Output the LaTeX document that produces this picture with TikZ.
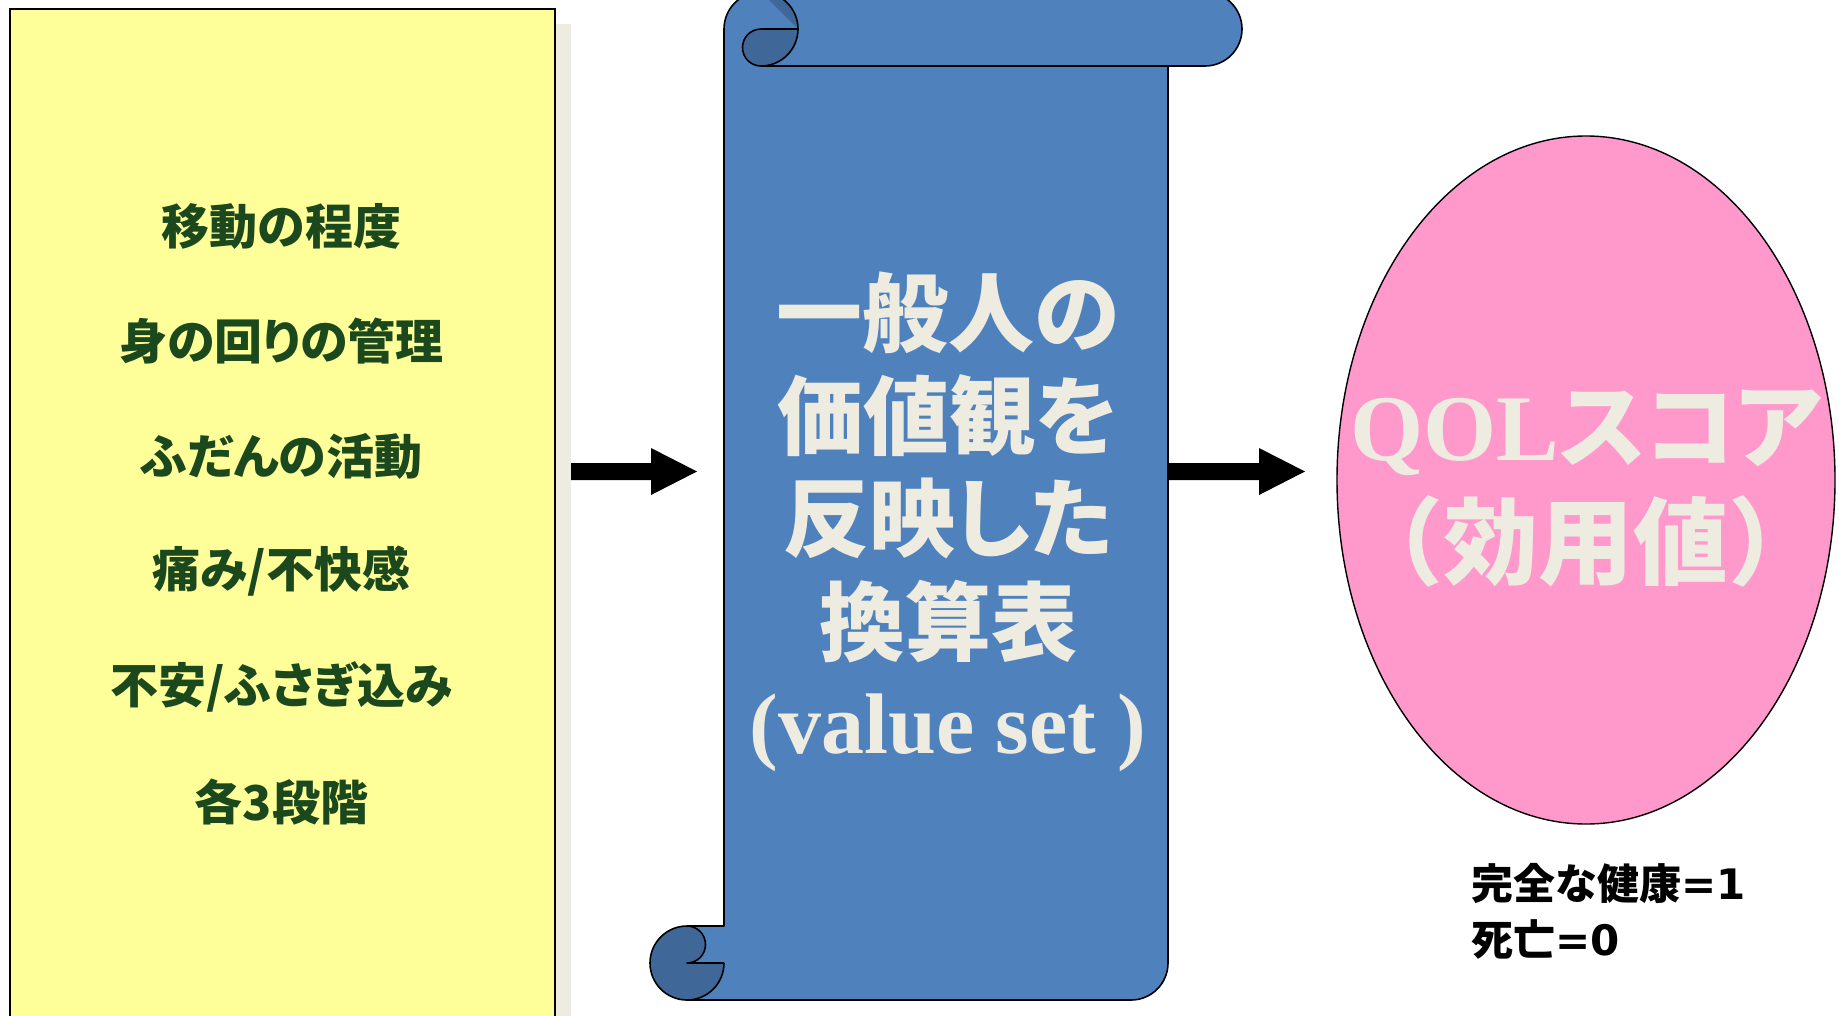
\documentclass[tikz,border=0pt]{standalone}
\usepackage{fontspec}
\usetikzlibrary{shapes.geometric,calc}
\newfontfamily\jp{Noto Sans CJK JP}
\newfontfamily\jpp{Noto Sans CJK JP}[RawFeature=+palt]
\newfontfamily\tnr{Liberation Serif}
\newfontfamily\djv{DejaVu Sans}
\definecolor{boxyellow}{HTML}{FFFF99}
\definecolor{creamtxt}{HTML}{EEECE1}
\definecolor{scrollblue}{HTML}{4F81BD}
\definecolor{curldark}{HTML}{3F6797}
\definecolor{qolpink}{HTML}{FF99CC}
\definecolor{itemgreen}{RGB}{28,72,30}
\begin{document}
\begin{tikzpicture}[x=1pt,y=-1pt,
  item/.style={font={\jpp\bfseries\fontsize{48}{58}\selectfont}, text=itemgreen, inner sep=0pt},
  scrolltext/.style={font={\jpp\bfseries\fontsize{86}{100}\selectfont}, text=creamtxt, inner sep=0pt},
  blockarrow/.style={fill=black},
  outline/.style={draw=black, line width=1.6pt, line join=round}]
\useasboundingbox (0,0) rectangle (1839,1015);
\clip (0,0) rectangle (1839,1015);

% yellow panel with shadow
\fill[creamtxt] (26,24) rectangle (571,1040);
\node[draw=black, fill=boxyellow, line width=2pt, minimum width=545pt, minimum height=1032pt, anchor=north west, inner sep=0pt] (panel) at (9,8) {};
\node[item] (i1) at (281.5,226.5) {移動の程度};
\node[item] (i2) at (281.5,341.5) {身の回りの管理};
\node[item] (i3) at (281.5,456.5) {ふだんの活動};
\node[item] (i4) at (281.5,571.5) {痛み/不快感};
\node[item] (i5) at (281.5,686.5) {不安/ふさぎ込み};
\node[item] (i6) at (281.5,802) {各3段階};

% arrow 1
\coordinate (a1s) at (571,471.5);
\coordinate (a1e) at (697,471.5);
\fill[blockarrow] ($(a1s)+(0,-8.5)$) -- ($(a1e)+(-46,-8.5)$) -- ($(a1e)+(-46,-23.5)$) -- (a1e)
  -- ($(a1e)+(-46,23.5)$) -- ($(a1e)+(-46,8.5)$) -- ($(a1s)+(0,8.5)$) -- cycle;

% scroll
\fill[scrollblue]
 (724,29) arc[start angle=180, end angle=270, radius=37]
 -- (1205,-8) arc[start angle=270, end angle=450, radius=37]
 -- (1168,66) -- (1168,963) arc[start angle=0, end angle=90, radius=37]
 -- (687,1000) arc[start angle=90, end angle=270, radius=37]
 -- (724,926) -- cycle;
\fill[curldark] (761,29) arc[start angle=270, end angle=90, radius=18.5]
  arc[start angle=90, end angle=0, radius=37] -- cycle;
\fill[curldark] (798,29) arc[start angle=0, end angle=-90, radius=37] -- cycle;
\fill[curldark] (687,926) arc[start angle=270, end angle=90, radius=37]
  arc[start angle=90, end angle=0, radius=37] -- (687,963)
  arc[start angle=90, end angle=-90, radius=18.5] -- cycle;
\draw[outline]
 (724,29) arc[start angle=180, end angle=270, radius=37]
 -- (1205,-8) arc[start angle=270, end angle=450, radius=37]
 -- (1168,66) -- (1168,963) arc[start angle=0, end angle=90, radius=37]
 -- (687,1000) arc[start angle=90, end angle=270, radius=37]
 -- (724,926) -- cycle;
\draw[outline] (761,29) arc[start angle=270, end angle=90, radius=18.5] -- (1168,66);
\draw[outline] (761,29) -- (798,29);
\draw[outline] (761,-8) arc[start angle=-90, end angle=90, radius=37];
\draw[outline] (687,1000) arc[start angle=90, end angle=0, radius=37];
\draw[outline] (724,963) -- (687,963) arc[start angle=90, end angle=-90, radius=18.5];

\node[scrolltext] (s1) at (948,312.5) {一般人の};
\node[scrolltext] (s2) at (948,416) {価値観を};
\node[scrolltext] (s3) at (948,518) {反映した};
\node[scrolltext] (s4) at (948,622) {換算表};
\node[text=creamtxt, inner sep=0pt, anchor=base, font={\tnr\bfseries\fontsize{86}{100}\selectfont}] (s5) at (948,753) {(value set )};

% arrow 2
\coordinate (a2s) at (1169,471.5);
\coordinate (a2e) at (1305,471.5);
\fill[blockarrow] ($(a2s)+(0,-8.5)$) -- ($(a2e)+(-46,-8.5)$) -- ($(a2e)+(-46,-23.5)$) -- (a2e)
  -- ($(a2e)+(-46,23.5)$) -- ($(a2e)+(-46,8.5)$) -- ($(a2s)+(0,8.5)$) -- cycle;

% QOL ellipse
\node[ellipse, draw=black, fill=qolpink, line width=1.4pt, minimum width=498pt, minimum height=688pt, inner sep=0pt] (qol) at (1586,480) {};
\node[text=creamtxt, inner sep=0pt, anchor=base] (q1) at (1586,460)
  {{\tnr\bfseries\fontsize{94}{100}\selectfont QOL}{\jpp\bfseries\fontsize{92}{100}\selectfont スコア}};
\node[text=creamtxt, inner sep=0pt, font={\jp\bfseries\fontsize{95}{100}\selectfont}] (q2) at (1586,541) {（効用値）};

% notes
\node[anchor=west, inner sep=0pt, font={\jp\bfseries\fontsize{42}{50}\selectfont}] (n1) at (1471,883.5) {完全な健康{\djv =1}};
\node[anchor=west, inner sep=0pt, font={\jp\bfseries\fontsize{42}{50}\selectfont}] (n2) at (1471,939) {死亡{\djv =0}};
\end{tikzpicture}
\end{document}
